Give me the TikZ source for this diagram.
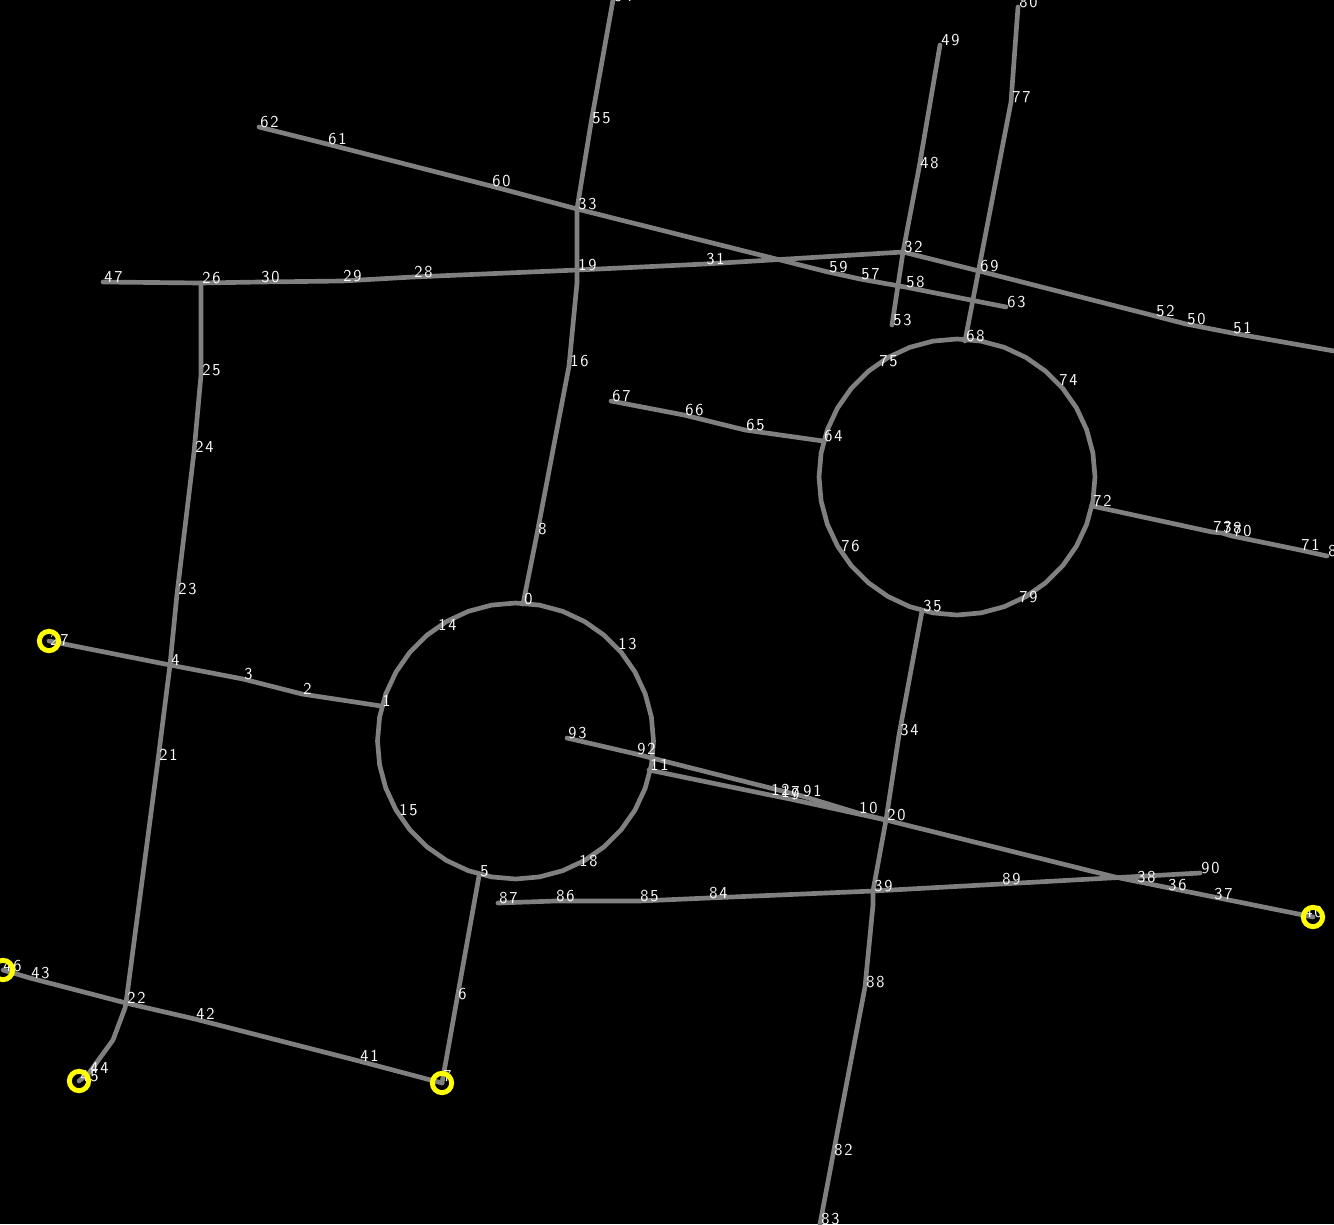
\documentclass[tikz,border=0pt]{standalone}
\usepackage{fontspec}
\setmainfont[LetterSpace=10]{Latin Modern Sans}
\definecolor{edgegray}{RGB}{128,128,128}
\definecolor{ringyellow}{RGB}{255,255,0}
\tikzset{
  x=0.75pt,y=-0.75pt,
  edge/.style={draw=edgegray,line width=3.5pt,line join=round,line cap=round},
  lab/.style={text=white,font=\fontsize{12.5pt}{13pt}\selectfont,inner sep=0pt,outer sep=0pt,anchor=south west,xshift=1.1pt,yshift=-0.5pt},
  ring/.style={circle,draw=ringyellow,line width=3.7pt,minimum size=14.5pt,inner sep=0pt}
}
\begin{document}
\begin{tikzpicture}
\fill[black] (0,0) rectangle (1334,1224);
\useasboundingbox (0,0) rectangle (1334,1224);
\clip (0,0) rectangle (1334,1224);
% unlabelled bends and free ends
\coordinate (b19) at (577,283);
\coordinate (b22a) at (125,1008);
\coordinate (b22b) at (113,1040);
\coordinate (b39) at (873,905);
\coordinate (b38) at (1115,877);
\coordinate (r1) at (1334,351);
\coordinate (t54) at (613,0);
\coordinate (e7) at (442,1083);
\coordinate (e27) at (49,641);
\coordinate (e40) at (1313,917);
\coordinate (e45) at (79,1081);
\coordinate (e46) at (3,970);
% numbered vertices
\foreach \a/\b/\l in {
0/523/604,1/381/706,2/302/694,3/243/679,4/170/665,5/479/876,6/457/999,7/442/1081,8/537/534,9/790/799,
10/858/813,11/649/770,12/770/795,13/617/649,14/437/630,15/398/815,16/569/366,17/780/797,18/578/866,19/577/270,
20/886/820,21/158/760,22/126/1003,23/177/594,24/194/452,25/201/375,26/201/283,27/49/645,28/413/277,29/342/281,
30/260/282,31/705/264,32/903/252,33/577/209,34/899/735,35/922/611,36/1167/890,37/1213/899,38/1136/882,39/873/891,
40/1303/917,41/359/1061,42/195/1019,43/30/978,44/89/1073,45/79/1081,46/2/971,47/103/282,48/919/168,49/940/45,
50/1186/324,51/1232/333,52/1155/316,53/892/325,54/613/1,55/591/123,57/860/279,58/905/287,59/828/272,60/491/186,
61/327/144,62/259/127,63/1006/307,64/823/441,65/745/430,66/684/415,67/611/401,68/965/341,69/979/271,70/1232/536,
71/1300/550,72/1092/506,73/1212/532,74/1058/385,75/878/366,76/840/551,77/1011/102,78/1222/533,79/1018/602,80/1018/7,
81/1327/556,82/833/1155,83/820/1224,84/708/898,85/639/901,86/555/901,87/498/903,88/865/987,89/1001/884,90/1200/873,
91/802/796,92/636/754,93/567/738}
{\coordinate (v\a) at (\b,\l);}
% circles
\draw[edge] plot[samples=37,domain=0:360] ({515.5+138*cos(\x)},{741+138*sin(\x)}) -- cycle;
\draw[edge] plot[samples=37,domain=0:360] ({957+138*cos(\x)},{477+138*sin(\x)}) -- cycle;
% polylines
\draw[edge] (t54) -- (v55) -- (v33) -- (v19) -- (b19) -- (v16) -- (v8) -- (v0);
\draw[edge] (v47) -- (v26) -- (v30) -- (v29) -- (v28) -- (v19) -- (v31) -- (v32) -- (v69) -- (v52) -- (v50) -- (v51) -- (r1);
\draw[edge] (v62) -- (v61) -- (v60) -- (v33) -- (v59) -- (v57) -- (v58) -- (v63);
\draw[edge] (v49) -- (v48) -- (v32) -- (v53);
\draw[edge] (v80) -- (v77) -- (v68);
\draw[edge] (v67) -- (v66) -- (v65) -- (v64);
\draw[edge] (v72) -- (v73) -- (v78) -- (v70) -- (v71) -- (v81);
\draw[edge] (v35) -- (v34) -- (v20) -- (v39) -- (b39) -- (v88) -- (v82) -- (v83);
\draw[edge] (v93) -- (v92) -- (v91) -- (v10) -- (v20) -- (b38) -- (e40);
\draw[edge] (v11) -- (v12) -- (v17) -- (v9) -- (v20);
\draw[edge] (v87) -- (v86) -- (v85) -- (v84) -- (v39) -- (v89) -- (v90);
\draw[edge] (v5) -- (v6) -- (e7);
\draw[edge] (e46) -- (v43) -- (v22) -- (v42) -- (v41) -- (e7);
\draw[edge] (v26) -- (v25) -- (v24) -- (v23) -- (v4) -- (v21) -- (v22) -- (b22a) -- (b22b) -- (v44) -- (e45);
\draw[edge] (e27) -- (v4) -- (v3) -- (v2) -- (v1);
% labels
\foreach \a in {0,...,55,57,58,...,93}{\node[lab] (l\a) at (v\a) {\a};}
% end rings
\node[ring] (n7) at (e7) {};
\node[ring] (n27) at (e27) {};
\node[ring] (n40) at (e40) {};
\node[ring] (n45) at (e45) {};
\node[ring] (n46) at (e46) {};
\end{tikzpicture}
\end{document}
